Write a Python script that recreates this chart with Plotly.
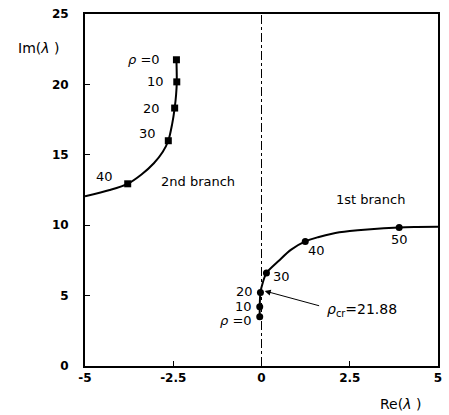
import plotly.graph_objects as go

# 2nd branch (square markers)
b2_rho = ["<i>ρ</i> =0", "10", "20", "30", "40"]
b2_re = [-2.41, -2.40, -2.46, -2.64, -3.79]
b2_im = [21.75, 20.18, 18.32, 16.0, 12.94]
b2_curve_re = [-2.41, -2.40, -2.42, -2.46, -2.53, -2.64, -2.8, -3.05, -3.4, -3.79, -4.3, -5.0]
b2_curve_im = [21.75, 20.18, 19.25, 18.32, 17.2, 16.0, 15.2, 14.4, 13.6, 12.94, 12.5, 12.05]

# 1st branch (circle markers)
b1_rho = ["<i>ρ</i> =0", "10", "20", "30", "40", "50"]
b1_re = [-0.05, -0.05, -0.03, 0.14, 1.24, 3.9]
b1_im = [3.5, 4.2, 5.22, 6.61, 8.85, 9.84]
b1_curve_re = [-0.05, -0.05, -0.03, 0.04, 0.14, 0.5, 0.83, 1.24, 1.6, 2.0, 2.5, 3.0, 3.9, 4.4, 5.0]
b1_curve_im = [3.5, 4.2, 5.22, 5.95, 6.61, 7.5, 8.25, 8.85, 9.15, 9.4, 9.58, 9.7, 9.84, 9.87, 9.89]

x_ticks = [-5, -2.5, 0, 2.5, 5]
x_ticklabels = ["-5", "-2.5", "0", "2.5", "5"]
y_ticks = [0, 5, 10, 15, 20, 25]

FONT = "DejaVu Sans, Arial, sans-serif"

fig = go.Figure()

# dash-dot vertical line at Re=0
fig.add_trace(go.Scatter(x=[0, 0], y=[0, 25], mode="lines",
                         line=dict(color="black", width=1, dash="dashdot"),
                         hoverinfo="skip", showlegend=False))

fig.add_trace(go.Scatter(x=b2_curve_re, y=b2_curve_im, mode="lines",
                         line=dict(color="black", width=2, shape="spline", smoothing=0.8),
                         showlegend=False))
fig.add_trace(go.Scatter(x=b2_re, y=b2_im, mode="markers",
                         marker=dict(symbol="square", size=7, color="black"),
                         showlegend=False))
fig.add_trace(go.Scatter(x=b1_curve_re, y=b1_curve_im, mode="lines",
                         line=dict(color="black", width=2, shape="spline", smoothing=0.8),
                         showlegend=False))
fig.add_trace(go.Scatter(x=b1_re, y=b1_im, mode="markers",
                         marker=dict(symbol="circle", size=7, color="black"),
                         showlegend=False))

ann = []
tf = dict(family=FONT, size=13, color="black")
# 2nd branch labels (to the left)
b2_off = [(-14, 0), (-11, 0), (-13, 0), (-10, 7), (-13, 7)]
for lbl, x, y, (dx, dy) in zip(b2_rho, b2_re, b2_im, b2_off):
    ann.append(dict(x=x, y=y, text=lbl, showarrow=False, xanchor="right",
                    xshift=dx, yshift=dy, font=tf))
# 1st branch labels
offsets = [(-6, -4, "right"), (-6, 0, "right"), (-5, 1, "right"),
           (5, -4, "left"), (1, -9, "left"), (0, -12, "center")]
for lbl, x, y, (dx, dy, xa) in zip(b1_rho, b1_re, b1_im, offsets):
    ann.append(dict(x=x, y=y, text=lbl, showarrow=False, xanchor=xa,
                    xshift=dx, yshift=dy, font=tf))

ann.append(dict(x=-1.79, y=13.1, text="2nd branch", showarrow=False, font=tf))
ann.append(dict(x=3.1, y=11.8, text="1st branch", showarrow=False, font=tf))
ann.append(dict(x=0.09, y=5.33, ax=1.675, ay=4.25, axref="x", ayref="y",
                text="", showarrow=True, arrowhead=2, arrowsize=1.2,
                arrowwidth=1, arrowcolor="black"))
ann.append(dict(x=1.8, y=3.97, text="<i>ρ</i><sub>cr</sub>=21.88", showarrow=False,
                xanchor="left", font=dict(family=FONT, size=14, color="black")))
ann.append(dict(x=-0.132, y=0.903, xref="paper", yref="paper", text="Im(<i>λ</i> )",
                showarrow=False, xanchor="center", yanchor="middle",
                font=dict(family=FONT, size=14, color="black")))
ann.append(dict(x=0.894, y=-0.108, xref="paper", yref="paper", text="Re(<i>λ</i> )",
                showarrow=False, xanchor="center", yanchor="middle",
                font=dict(family=FONT, size=14, color="black")))

tickfont = dict(family=FONT, size=12, color="black", weight="bold")
fig.update_layout(
    width=449, height=415,
    margin=dict(l=85, r=7, t=14, b=49),
    paper_bgcolor="white", plot_bgcolor="white",
    annotations=ann,
    xaxis=dict(range=[-5, 5], tickvals=x_ticks, ticktext=x_ticklabels,
               ticks="inside", ticklen=5, tickcolor="black", tickwidth=1,
               showline=True, linecolor="black", linewidth=2, mirror=True,
               showgrid=False, zeroline=False, tickfont=tickfont),
    yaxis=dict(range=[0, 25], tickvals=y_ticks,
               ticks="inside", ticklen=5, tickcolor="black", tickwidth=1,
               showline=True, linecolor="black", linewidth=2, mirror=True,
               showgrid=False, zeroline=False, tickfont=tickfont, ticklabelstandoff=12),
)

fig.write_html("out.html")
